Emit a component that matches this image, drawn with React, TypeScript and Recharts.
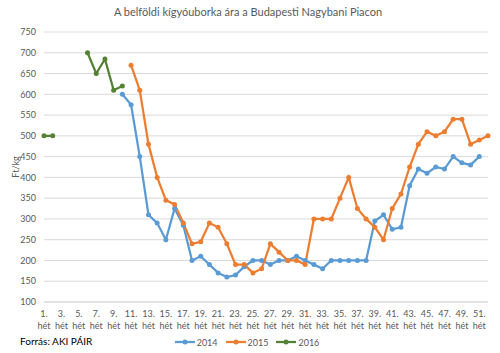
import React from 'react';
import { CartesianGrid, Legend, Line, LineChart, XAxis, YAxis } from 'recharts';

const weeks = [
  '1', '2', '3', '4', '5', '6', '7', '8', '9', '10', '11', '12', '13',
  '14', '15', '16', '17', '18', '19', '20', '21', '22', '23', '24', '25', '26',
  '27', '28', '29', '30', '31', '32', '33', '34', '35', '36', '37', '38', '39',
  '40', '41', '42', '43', '44', '45', '46', '47', '48', '49', '50', '51', '52',
];

const price2014 = [
  null, null, null, null, null, null, null, null, null, 600, 575, 450, 310,
  290, 250, 325, 285, 200, 210, 190, 170, 160, 165, 185, 200, 200,
  190, 200, 200, 210, 200, 190, 180, 200, 200, 200, 200, 200, 295,
  310, 275, 280, 380, 420, 410, 425, 420, 450, 435, 430, 450, null,
];

const price2015 = [
  null, null, null, null, null, null, null, null, null, null, 670, 610, 480,
  400, 345, 335, 290, 240, 245, 290, 280, 240, 190, 190, 170, 180,
  240, 220, 200, 200, 190, 300, 300, 300, 350, 400, 325, 300, 280,
  250, 325, 360, 425, 480, 510, 500, 510, 540, 540, 480, 490, 500,
];

const price2016 = [
  500, 500, null, null, null, 700, 650, 685, 610, 620, null, null, null,
  null, null, null, null, null, null, null, null, null, null, null, null, null,
  null, null, null, null, null, null, null, null, null, null, null, null, null,
  null, null, null, null, null, null, null, null, null, null, null, null, null,
];

const yTicks = [100, 150, 200, 250, 300, 350, 400, 450, 500, 550, 600, 650, 700, 750];

const data = weeks.map((w, i) => ({
  week: w,
  y2014: price2014[i],
  y2015: price2015[i],
  y2016: price2016[i],
}));

const FONT = 'Lato, "Open Sans", sans-serif';
const GREY = '#595959';

const WeekTick = (props: any) => {
  const { x, y, payload, index } = props;
  if (index % 2 === 1) return <g />;
  return (
    <g transform={`translate(${x},${y})`}>
      <text textAnchor="middle" fontSize={9} fill={GREY} fontFamily={FONT}>
        <tspan x={0} dy={7}>{payload.value}.</tspan>
        <tspan x={0} dy={12}>hét</tspan>
      </text>
    </g>
  );
};

const AxisTitle = (props: any) => {
  const { viewBox } = props;
  const cy = viewBox.y + viewBox.height / 2;
  return (
    <text
      x={19}
      y={cy}
      transform={`rotate(-90, 19, ${cy})`}
      textAnchor="middle"
      fontSize={9}
      fill={GREY}
      fontFamily={FONT}
    >
      Ft/kg
    </text>
  );
};

const LegendContent = (props: any) => {
  const { payload } = props;
  return (
    <div style={{ display: 'flex', justifyContent: 'center', alignItems: 'center', height: 16, marginLeft: 10, marginTop: -3 }}>
      {payload.map((p: any) => (
        <div key={p.value} style={{ display: 'flex', alignItems: 'center', marginRight: 8 }}>
          <svg width={20} height={8}>
            <line x1={0} y1={4} x2={20} y2={4} stroke={p.color} strokeWidth={2.25} />
            <circle cx={10} cy={4} r={2.5} fill={p.color} />
          </svg>
          <span style={{ fontSize: 9, color: GREY, fontFamily: FONT, marginLeft: 2 }}>{p.value}</span>
        </div>
      ))}
    </div>
  );
};

export default function App() {
  return (
    <div style={{ position: 'absolute', left: 0, top: 0, width: 500, height: 353, background: '#fff' }}>
      <div
        style={{
          position: 'absolute', left: 0, top: 5, width: 496, textAlign: 'center',
          fontSize: 11, color: GREY, fontFamily: FONT,
        }}
      >
        A belföldi kígyóuborka ára a Budapesti Nagybani Piacon
      </div>
      <LineChart width={500} height={353} data={data} margin={{ top: 32, right: 12, bottom: 0, left: 4 }}>
        <CartesianGrid vertical={false} stroke="#d9d9d9" />
        <XAxis
          dataKey="week"
          interval={0}
          tick={<WeekTick />}
          tickLine={false}
          axisLine={{ stroke: '#d9d9d9' }}
          height={35}
        />
        <YAxis
          domain={[100, 750]}
          ticks={yTicks}
          interval={0}
          width={40}
          axisLine={false}
          tickLine={false}
          tick={{ fontSize: 9, fill: GREY, fontFamily: FONT }}
          label={{ value: 'Ft/kg', content: <AxisTitle /> }}
        />
        <Legend verticalAlign="bottom" height={16} content={<LegendContent />} />
        <Line dataKey="y2014" name="2014" stroke="#5b9bd5" strokeWidth={2.25} dot={{ r: 2.5, fill: '#5b9bd5', strokeWidth: 0 }} isAnimationActive={false} />
        <Line dataKey="y2015" name="2015" stroke="#ed7d31" strokeWidth={2.25} dot={{ r: 2.5, fill: '#ed7d31', strokeWidth: 0 }} isAnimationActive={false} />
        <Line dataKey="y2016" name="2016" stroke="#548235" strokeWidth={2.25} dot={{ r: 2.5, fill: '#548235', strokeWidth: 0 }} isAnimationActive={false} />
      </LineChart>
      <div style={{ position: 'absolute', left: 20, top: 335, fontSize: 10, color: '#000', fontFamily: FONT }}>
        Forrás: AKI PÁIR
      </div>
    </div>
  );
}
